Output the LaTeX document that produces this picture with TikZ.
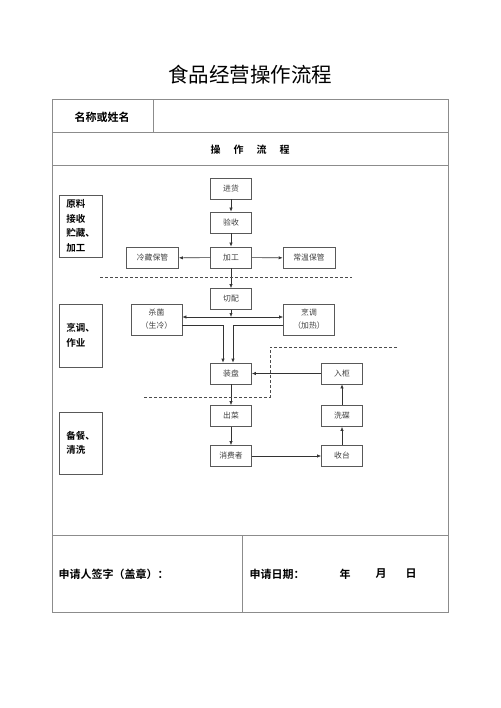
\documentclass[tikz,border=0pt]{standalone}
\usepackage{fontspec}
\setmainfont{Noto Sans CJK SC}[BoldFont={Noto Sans CJK SC Bold}]
\usetikzlibrary{arrows.meta}
\begin{document}
\begin{tikzpicture}[x=1pt,y=-1pt,
 tbl/.style={draw=black!45, line width=1pt},
 fbox/.style={draw=black!65, line width=0.6pt, minimum width=41pt, minimum height=21pt, inner sep=0pt, font=\fontsize{7.8}{13}\selectfont, text=black!75},
 wbox/.style={fbox, minimum width=52pt},
 tbox/.style={fbox, minimum width=51pt, minimum height=31pt, align=center},
 lbl/.style={draw=black!65, line width=0.6pt, minimum width=43pt, inner sep=0pt, font=\bfseries\fontsize{9.5}{14.5}\selectfont, align=left},
 arr/.style={-{Latex[length=4pt,width=3.2pt]}, line width=0.6pt, draw=black!80},
 dsh/.style={dash pattern=on 3pt off 2pt, line width=0.6pt, draw=black!70}]
\fill[white] (0,0) rectangle (500,708);
\useasboundingbox (0,0) rectangle (500,708);
% table
\draw[tbl] (52,100) rectangle (448,612);
\draw[tbl] (52,133) -- (448,133);
\draw[tbl] (52,166) -- (448,166);
\draw[tbl] (52,535) -- (448,535);
\draw[tbl] (153,100) -- (153,133);
\draw[tbl] (242,535) -- (242,612);
\node (title) at (250,75) {\fontsize{20.5}{24}\selectfont 食品经营操作流程};
\node (name) at (102,117) [font=\bfseries\fontsize{11}{13}\selectfont] {名称或姓名};
\node (proc) at (250,150) [font=\bfseries\fontsize{10}{12}\selectfont] {操\hspace{1.3em}作\hspace{1.3em}流\hspace{1.3em}程};
\node (sign) [anchor=west, font=\bfseries\fontsize{11}{13}\selectfont] at (55,574) {申请人签字（盖章）：};
\node (date) [anchor=west, font=\bfseries\fontsize{11}{13}\selectfont] at (246,574) {申请日期：};
\node (yr) [font=\bfseries\fontsize{11}{13}\selectfont] at (345,574) {年};
\node (mo) [font=\bfseries\fontsize{11}{13}\selectfont] at (381,574) {月};
\node (dy) [font=\bfseries\fontsize{11}{13}\selectfont] at (411,574) {日};
% left labels
\node[lbl, minimum height=62pt] (l1) at (80.5,226) {原料\\接收\\贮藏、\\加工};
\node[lbl, minimum height=63pt] (l2) at (80.5,335.5) {烹调、\\作业};
\node[lbl, minimum height=62pt] (l3) at (80.5,443) {备餐、\\清洗};
% flow boxes
\node[fbox] (jh) at (231,188.5) {进货};
\node[fbox] (ys) at (231,222.5) {验收};
\node[fbox] (jg) at (231,257.5) {加工};
\node[wbox] (lc) at (152.5,258) {冷藏保管};
\node[wbox] (cw) at (309,258) {常温保管};
\node[fbox] (qp) at (231,299) {切配};
\node[tbox] (sj) at (156.5,319.5) {杀菌\\（生冷）};
\node[tbox] (pt) at (309,319.5) {烹调\\（加热）};
\node[fbox] (zp) at (231,373.5) {装盘};
\node[fbox] (rg) at (342,373.5) {入柜};
\node[fbox] (cc) at (231,416) {出菜};
\node[fbox] (xf) at (231,456) {消费者};
\node[fbox] (st) at (342,456) {收台};
\node[fbox] (xd) at (342,416) {洗碟};
% arrows
\draw[arr] (jh) -- (ys);
\draw[arr] (ys) -- (jg);
\draw[arr] (jg) -- (lc);
\draw[arr] (jg) -- (cw);
\draw[arr] (jg) -- (qp);
\coordinate (j) at (231,317);
\draw[arr] (qp) -- (j);
\draw[arr] (j) -- (sj.east |- j);
\draw[arr] (j) -- (pt.west |- j);
\draw[arr] ([yshift=-5.5pt]sj.east) -| ([xshift=-8pt]zp.north);
\draw[arr] ([yshift=-5.5pt]pt.west) -| ([xshift=2pt]zp.north);
\draw[arr] (rg) -- (zp);
\draw[arr] (zp) -- (cc);
\draw[arr] (cc) -- (xf);
\draw[arr] (xf) -- (st);
\draw[arr] (st) -- (xd);
\draw[arr] (xd) -- (rg);
% dashed separators
\draw[dsh] (100,277) -- (352,277);
\draw[dsh] (397,347) -- (270,347) -- (270,397) -- (143,397);
\end{tikzpicture}
\end{document}
